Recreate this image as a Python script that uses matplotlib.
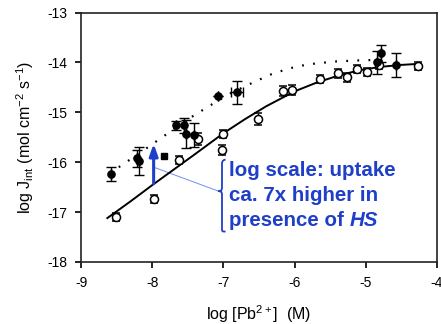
import matplotlib
matplotlib.use("Agg")
import matplotlib.pyplot as plt
from matplotlib.path import Path
from matplotlib.patches import PathPatch

plt.rcParams['font.family'] = ['Liberation Sans', 'DejaVu Sans']
plt.rcParams['mathtext.fontset'] = 'custom'
plt.rcParams['mathtext.rm'] = 'Liberation Sans'
plt.rcParams['mathtext.it'] = 'Liberation Sans:italic'

# Uptake flux with humic substances (filled symbols)
hs_x = [-8.58, -8.22, -8.18, -7.67, -7.55, -7.52, -7.42, -7.07, -6.81, -4.85, -4.78, -4.57]
hs_y = [-16.24, -15.92, -15.98, -15.26, -15.26, -15.44, -15.45, -14.68, -14.60, -14.00, -13.82, -14.06]
hs_err = [0.14, 0.17, 0.28, 0.09, 0.15, 0.28, 0.24, 0.0, 0.23, 0.23, 0.17, 0.24]
hs_xerr = [0, 0, 0, 0, 0, 0, 0, 0, 0.09, 0, 0, 0]
# single square-marker measurement
sq_x = [-7.84]
sq_y = [-15.88]

# Uptake flux without humic substances (open symbols)
ref_x = [-8.51, -7.97, -7.62, -7.35, -7.00, -7.02, -6.52, -6.16, -6.04, -5.64, -5.39, -5.26, -5.12, -4.99, -4.82, -4.27]
ref_y = [-17.10, -16.74, -15.95, -15.54, -15.44, -15.75, -15.13, -14.58, -14.55, -14.33, -14.22, -14.30, -14.13, -14.20, -14.06, -14.07]
ref_err = [0.08, 0.08, 0.08, 0.12, 0.08, 0.10, 0.12, 0.10, 0.10, 0.08, 0.09, 0.09, 0.08, 0.08, 0.08, 0.08]

# Model curve without HS (solid) and with HS (dotted)
fit_x = [-8.63, -8.3, -8.0, -7.7, -7.4, -7.0, -6.7, -6.4, -6.0, -5.7, -5.4, -5.1, -4.8, -4.5, -4.27]
fit_y = [-17.12, -16.78, -16.46, -16.15, -15.84, -15.42, -15.14, -14.88, -14.58, -14.41, -14.27, -14.16, -14.09, -14.05, -14.03]
dot_x = [-8.47, -8.2, -7.98, -7.7, -7.4, -7.16, -6.9, -6.58, -6.3, -5.97, -5.7, -5.41, -5.1, -4.85, -4.66]
dot_y = [-16.10, -15.84, -15.62, -15.34, -15.05, -14.84, -14.62, -14.40, -14.22, -14.08, -14.02, -13.98, -13.96, -13.95, -13.95]

# arrow marking the difference at log[Pb] = -8
arrow_x = -7.98
arrow_y0, arrow_y1 = -16.43, -15.63

blue = '#1f3fc8'

fig = plt.figure(figsize=(4.41, 3.24), dpi=100)
ax = fig.add_axes([0.1837, 0.1914, 0.8073, 0.7700])

ax.plot(fit_x, fit_y, color='black', lw=1.4, zorder=2)
ax.plot(dot_x, dot_y, color='black', lw=1.6, linestyle=(0, (0.8, 4.2)), zorder=2)

ax.errorbar(ref_x, ref_y, yerr=ref_err, fmt='o', ms=5.8, mfc='white', mec='black',
            mew=1.1, ecolor='black', elinewidth=1.0, capsize=3.0, capthick=1.0, zorder=3)
ax.errorbar(hs_x, hs_y, yerr=hs_err, xerr=hs_xerr, fmt='o', ms=5.2, mfc='black', mec='black',
            ecolor='black', elinewidth=1.0, capsize=3.5, capthick=1.0, zorder=4)
ax.plot(sq_x, sq_y, 's', ms=4.5, color='black', zorder=4)

ax.annotate('', xy=(arrow_x, arrow_y1), xytext=(arrow_x, arrow_y0),
            arrowprops=dict(arrowstyle='-|>,head_length=0.7,head_width=0.25', color=blue, lw=2.2,
                            shrinkA=0, shrinkB=0), zorder=5)

# thin connector to the brace
brace_tip_x, brace_mid_y = -7.07, -16.58
ax.plot([arrow_x, brace_tip_x], [-16.10, brace_mid_y], color='#6f8ff0', lw=0.7, zorder=1)

# curly brace
xb, xe = -7.02, -6.97
yt, yb = -15.95, -17.39
d = 0.07
verts = [(xe, yt), (xb, yt), (xb, yt - d), (xb, yt - d),
         (xb, brace_mid_y + d),
         (xb, brace_mid_y), (brace_tip_x + 0.02, brace_mid_y), (brace_tip_x, brace_mid_y),
         (brace_tip_x + 0.02, brace_mid_y), (xb, brace_mid_y), (xb, brace_mid_y - d),
         (xb, yb + d),
         (xb, yb), (xb, yb), (xe, yb)]
codes = [Path.MOVETO, Path.CURVE4, Path.CURVE4, Path.CURVE4,
         Path.LINETO,
         Path.CURVE4, Path.CURVE4, Path.CURVE4,
         Path.CURVE4, Path.CURVE4, Path.CURVE4,
         Path.LINETO,
         Path.CURVE4, Path.CURVE4, Path.CURVE4]
ax.add_patch(PathPatch(Path(verts, codes), fill=False, edgecolor=blue, lw=1.3, zorder=5))

tx = -6.92
kw = dict(color=blue, fontsize=14.8, fontweight='bold', va='center', ha='left', zorder=6)
ax.text(tx, -16.17, 'log scale: uptake', **kw)
ax.text(tx, -16.67, 'ca. 7x higher in', **kw)
t3 = ax.text(tx, -17.17, 'presence of ', **kw)
ax.annotate('HS', xy=(1, 0), xycoords=t3, ha='left', va='bottom', color=blue,
            fontsize=14.8, fontweight='bold', fontstyle='italic', zorder=6)

ax.set_xlim(-9, -4)
ax.set_ylim(-18, -13)
ax.set_xticks([-9, -8, -7, -6, -5, -4])
ax.set_yticks([-18, -17, -16, -15, -14, -13])
ax.set_xticklabels(['-9', '-8', '-7', '-6', '-5', '-4'])
ax.set_yticklabels(['-18', '-17', '-16', '-15', '-14', '-13'])
ax.tick_params(direction='out', length=4, width=1.2, labelsize=10, pad=6)
for s in ax.spines.values():
    s.set_linewidth(1.2)
    s.set_color('#222222')

ax.set_xlabel(r'log [Pb$^{2+}$]  (M)', fontsize=11.5)
ax.set_ylabel(r'log J$_{\mathrm{int}}$ (mol cm$^{-2}$ s$^{-1}$)', fontsize=11.5)
ax.xaxis.set_label_coords(0.5, -0.165)
ax.yaxis.set_label_coords(-0.127, 0.5)

fig.savefig('out.png', dpi=100)
